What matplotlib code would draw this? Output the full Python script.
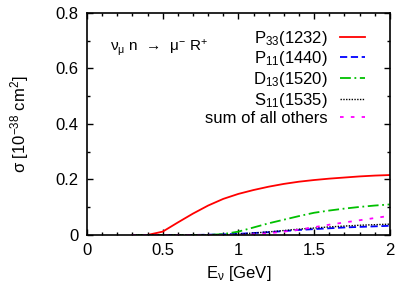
import matplotlib
matplotlib.use('Agg')
import matplotlib.pyplot as plt
from matplotlib.ticker import MultipleLocator, FixedLocator

plt.rcParams['font.family'] = ['Liberation Sans', 'DejaVu Sans']
plt.rcParams['mathtext.fontset'] = 'custom'
plt.rcParams['mathtext.rm'] = 'Liberation Sans'
plt.rcParams['mathtext.it'] = 'Liberation Sans'
plt.rcParams['mathtext.sf'] = 'Liberation Sans'

# neutrino energy grid [GeV]
energy = [0.3, 0.4, 0.5, 0.6, 0.7, 0.8, 0.9, 1.0, 1.1, 1.2, 1.3, 1.4,
          1.5, 1.6, 1.7, 1.8, 1.9, 2.0]

# cross sections [1e-38 cm^2]
p33 = [0.0, 0.0, 0.012, 0.045, 0.077, 0.106, 0.13, 0.148, 0.162, 0.174, 0.184,
       0.192, 0.198, 0.203, 0.207, 0.211, 0.214, 0.216]
p11 = [0.0, 0.0, 0.0, 0.0, 0.0, 0.001, 0.002, 0.004, 0.007, 0.010, 0.014,
       0.018, 0.021, 0.024, 0.027, 0.029, 0.031, 0.033]
d13 = [0.0, 0.0, 0.0, 0.0, 0.0, 0.0, 0.003, 0.012, 0.027, 0.042, 0.055,
       0.068, 0.080, 0.088, 0.095, 0.101, 0.106, 0.110]
s11 = [0.0, 0.0, 0.0, 0.0, 0.0, 0.0, 0.0, 0.003, 0.007, 0.011, 0.016,
       0.021, 0.025, 0.029, 0.032, 0.035, 0.037, 0.039]
others = [0.0, 0.0, 0.0, 0.0, 0.0, 0.0, 0.0, 0.0, 0.002, 0.006, 0.012,
          0.019, 0.028, 0.037, 0.045, 0.053, 0.061, 0.069]

labels = [r'P$_{33}$(1232)', r'P$_{11}$(1440)', r'D$_{13}$(1520)',
          r'S$_{11}$(1535)', 'sum of all others']

fig = plt.figure(figsize=(3.99, 2.89), dpi=100)
ax = fig.add_axes([0.218, 0.187, 0.759, 0.768])

ax.plot(energy, p33, color='#ff0000', lw=1.3, label=labels[0])
ax.plot(energy, p11, color='#0000ff', lw=1.3, ls=(0, (4, 2)), label=labels[1])
ax.plot(energy, d13, color='#00c000', lw=1.3, ls=(0, (6, 2, 1, 2)), label=labels[2])
ax.plot(energy, s11, color='#000000', lw=1.0, ls=(0, (1, 1)), label=labels[3])
ax.plot(energy, others, color='#ff00ff', lw=1.3, ls=(0, (2, 4)), label=labels[4])

ax.set_xlim(0, 2)
ax.set_ylim(0, 0.8)
ax.xaxis.set_major_locator(FixedLocator([0, 0.5, 1, 1.5, 2]))
ax.set_xticklabels(['0', '0.5', '1', '1.5', '2'])
ax.xaxis.set_minor_locator(MultipleLocator(0.1))
ax.yaxis.set_major_locator(FixedLocator([0, 0.2, 0.4, 0.6, 0.8]))
ax.set_yticklabels(['0', '0.2', '0.4', '0.6', '0.8'])
ax.yaxis.set_minor_locator(MultipleLocator(0.1))
ax.tick_params(which='both', direction='in', top=True, right=True, labelsize=12)
ax.tick_params(which='major', length=4, width=1, pad=6)
ax.tick_params(which='minor', length=2, width=1)
for s in ax.spines.values():
    s.set_linewidth(1.2)

ax.set_xlabel('E$_ν$ [GeV]', fontsize=12, labelpad=4)
ax.set_ylabel('σ [10$^{-38}$ cm$^2$]', fontsize=12, labelpad=18)

ax.text(0.075, 0.83, 'ν$_μ$ n  →  μ$^{-}$ R$^{+}$', transform=ax.transAxes,
        fontsize=11)

ax.legend(loc='upper right', bbox_to_anchor=(0.917, 0.93), frameon=False,
          markerfirst=False, fontsize=12, handlelength=1.5, labelspacing=0.1,
          borderaxespad=0, borderpad=0, handletextpad=0.7)

fig.savefig('out.png', dpi=100)
